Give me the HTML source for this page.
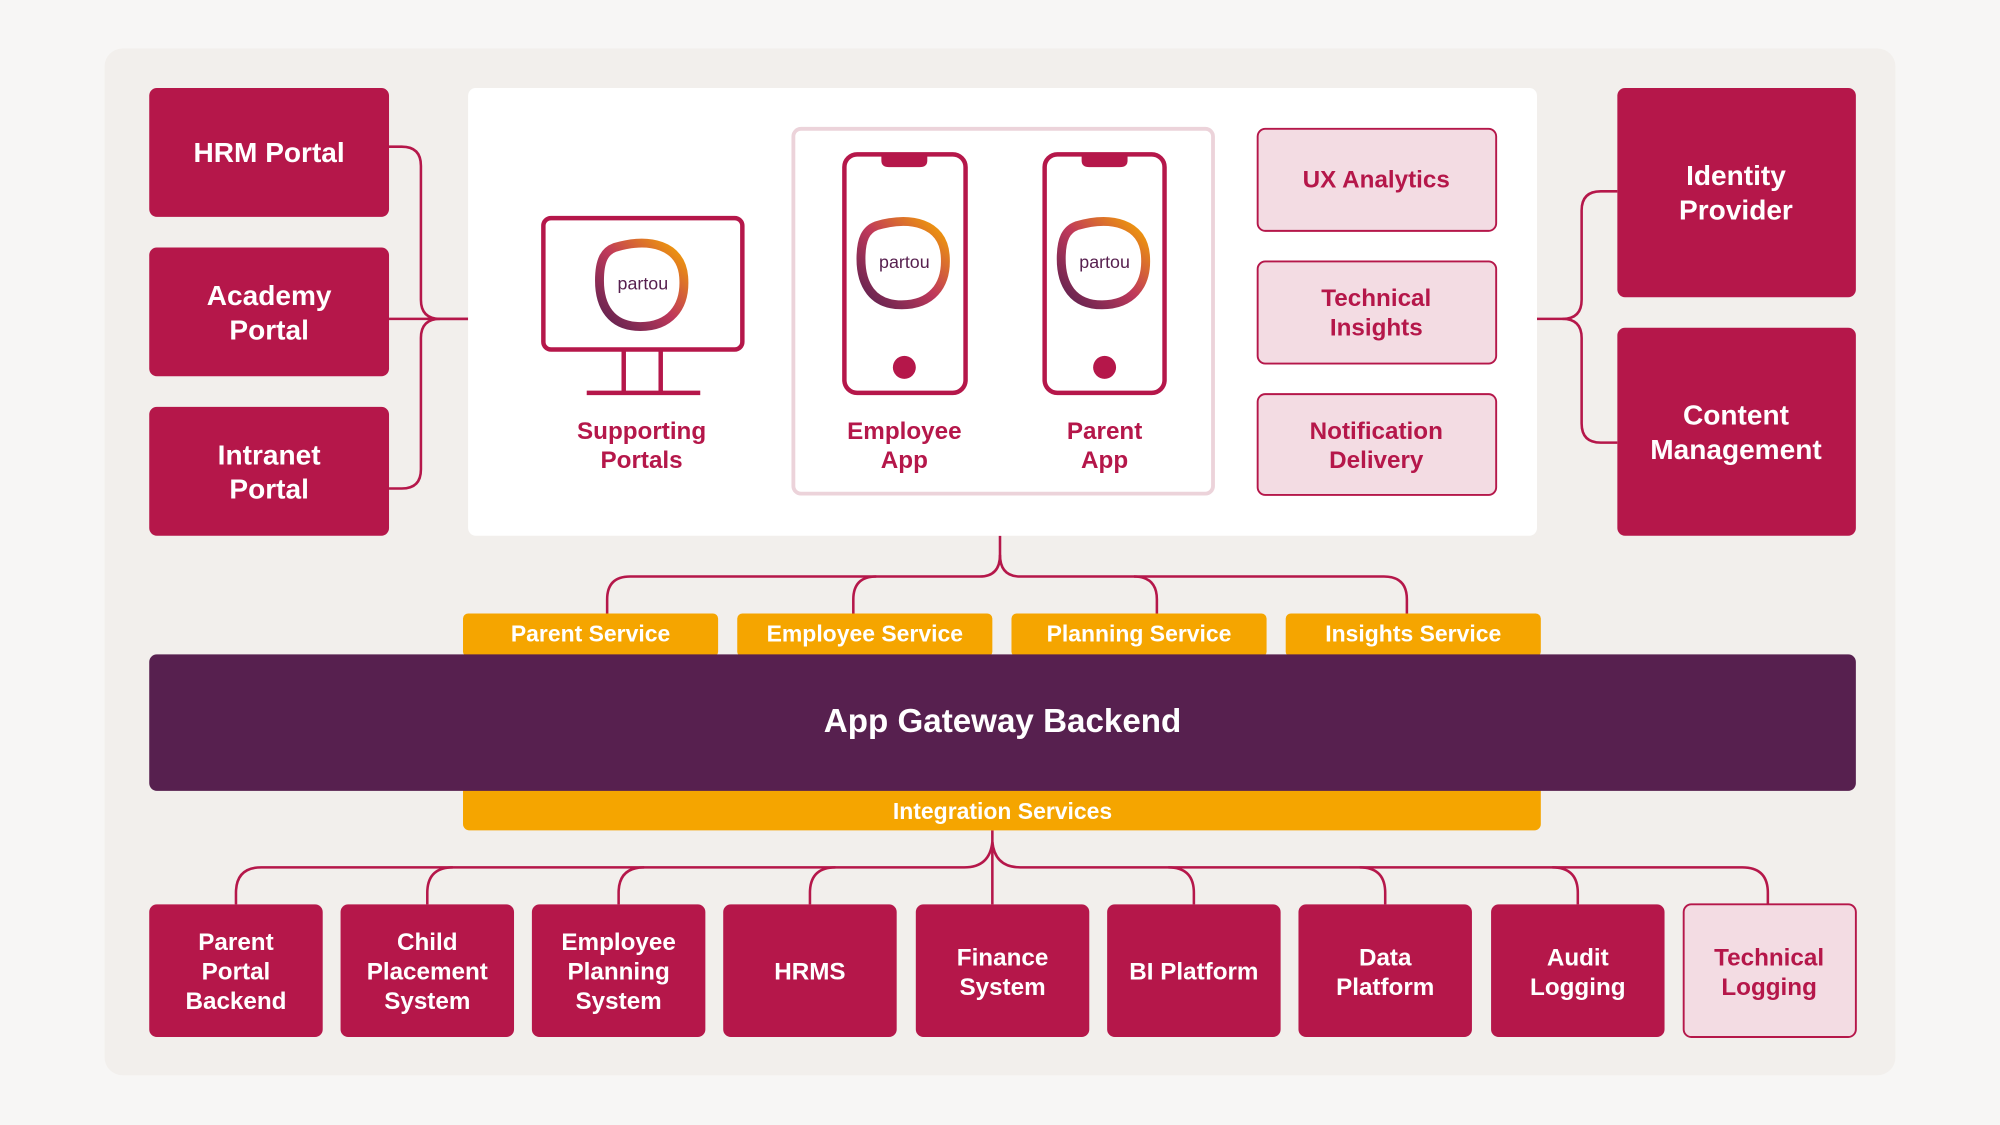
<!DOCTYPE html>
<html><head><meta charset="utf-8"><style>
html,body{margin:0;padding:0;background:#f7f6f5;}
svg{display:block;}
text{font-family:"Liberation Sans",sans-serif;font-weight:bold;text-anchor:middle;}
</style></head><body>
<svg width="2000" height="1125" viewBox="0 0 1568 882" xmlns="http://www.w3.org/2000/svg">
<defs>
<linearGradient id="g" x1="0" y1="1" x2="1" y2="0">
<stop offset="0" stop-color="#57204f"/><stop offset="0.5" stop-color="#c0395a"/><stop offset="1" stop-color="#f5a500"/></linearGradient>
<g id="logo">
<path d="M-22,-28 C5,-36 30,-30 32,-5 C34,20 20,34 -2,34 C-25,34 -34,18 -34,-2 C-34,-18 -30,-25 -22,-28 Z" fill="none" stroke="url(#g)" stroke-width="7"/>
<text x="0" y="5" font-size="14" font-weight="normal" fill="#57204f" style="font-weight:normal">partou</text>
</g>
</defs>
<rect width="1568" height="882" fill="#f7f6f5"/>
<rect x="82" y="38" width="1404" height="805" rx="14" fill="#f2efec"/>
<g fill="none" stroke="#b5174a" stroke-width="2">
<!-- left connectors -->
<path d="M305,115 H315 Q330,115 330,130 V235 Q330,250 345,250 H367"/>
<path d="M305,250 H367"/>
<path d="M305,383 H315 Q330,383 330,368 V265 Q330,250 345,250"/>
<!-- right connectors -->
<path d="M1205,250 H1225 Q1240,250 1240,235 V165 Q1240,150 1255,150 H1268"/>
<path d="M1225,250 Q1240,250 1240,265 V332 Q1240,347 1255,347 H1268"/>
<!-- top connectors -->
<path d="M784,420 V435 Q784,452 800,452 H1085 Q1103,452 1103,470 V482"/>
<path d="M784,435 Q784,452 768,452 H494 Q476,452 476,470 V482"/>
<path d="M669,482 V470 Q669,452 687,452"/>
<path d="M907,482 V470 Q907,452 889,452"/>
<!-- bottom connectors -->
<path d="M778,651 V709"/>
<path d="M778,660 Q776,680 756,680 H205 Q185,680 185,700 V709"/>
<path d="M778,660 Q780,680 800,680 H1366 Q1386,680 1386,700 V709"/>
<path d="M335,709 V700 Q335,680 355,680"/>
<path d="M485,709 V700 Q485,680 505,680"/>
<path d="M635,709 V700 Q635,680 655,680"/>
<path d="M936,709 V700 Q936,680 916,680"/>
<path d="M1086,709 V700 Q1086,680 1066,680"/>
<path d="M1237,709 V700 Q1237,680 1217,680"/>
</g>
<!-- left boxes -->
<g fill="#b5174a">
<rect x="117" y="69" width="188" height="101" rx="6"/>
<rect x="117" y="194" width="188" height="101" rx="6"/>
<rect x="117" y="319" width="188" height="101" rx="6"/>
<rect x="1268" y="69" width="187" height="164" rx="6"/>
<rect x="1268" y="257" width="187" height="163" rx="6"/>
</g>
<g fill="#fff" font-size="22">
<text x="211" y="127">HRM Portal</text>
<text x="211" y="239">Academy</text><text x="211" y="266">Portal</text>
<text x="211" y="364">Intranet</text><text x="211" y="391">Portal</text>
<text x="1361" y="145">Identity</text><text x="1361" y="172">Provider</text>
<text x="1361" y="333">Content</text><text x="1361" y="360">Management</text>
</g>
<!-- white panel -->
<rect x="367" y="69" width="838" height="351" rx="6" fill="#fff"/>
<rect x="622" y="101" width="329" height="286" rx="6" fill="#fff" stroke="#ecd3da" stroke-width="3"/>
<!-- monitor -->
<g fill="none" stroke="#b5174a" stroke-width="3.5">
<rect x="426" y="171" width="156" height="103" rx="6"/>
<path d="M489,274 V307 M518,274 V307 M460,308 H549"/>
<rect x="662" y="121" width="95" height="187" rx="10"/>
<rect x="819" y="121" width="94" height="187" rx="10"/>
</g>
<g fill="#b5174a">
<path d="M691,121 H727 V126 Q727,131 721,131 H697 Q691,131 691,126Z"/>
<path d="M848,121 H884 V126 Q884,131 878,131 H854 Q848,131 848,126Z"/>
<circle cx="709" cy="288" r="9"/><circle cx="866" cy="288" r="9"/>
</g>
<use href="#logo" x="504" y="222"/>
<use href="#logo" x="709" y="205"/>
<use href="#logo" x="866" y="205"/>
<g fill="#b5174a" font-size="19">
<text x="503" y="344">Supporting</text><text x="503" y="367">Portals</text>
<text x="709" y="344">Employee</text><text x="709" y="367">App</text>
<text x="866" y="344">Parent</text><text x="866" y="367">App</text>
</g>
<!-- light boxes -->
<g fill="#f3dce3" stroke="#b5174a" stroke-width="1.5">
<rect x="986" y="101" width="187" height="80" rx="6"/>
<rect x="986" y="205" width="187" height="80" rx="6"/>
<rect x="986" y="309" width="187" height="79" rx="6"/>
<rect x="1320" y="709" width="135" height="104" rx="6"/>
</g>
<g fill="#b5174a" font-size="19">
<text x="1079" y="147">UX Analytics</text>
<text x="1079" y="240">Technical</text><text x="1079" y="263">Insights</text>
<text x="1079" y="344">Notification</text><text x="1079" y="367">Delivery</text>
<text x="1387" y="757">Technical</text><text x="1387" y="780">Logging</text>
</g>
<!-- services -->
<g fill="#f5a500">
<rect x="363" y="481" width="200" height="34" rx="4"/>
<rect x="578" y="481" width="200" height="34" rx="4"/>
<rect x="793" y="481" width="200" height="34" rx="4"/>
<rect x="1008" y="481" width="200" height="34" rx="4"/>
<rect x="363" y="615" width="845" height="36" rx="5"/>
</g>
<rect x="117" y="513" width="1338" height="107" rx="6" fill="#57204f"/>
<g fill="#fff" font-size="18">
<text x="463" y="503">Parent Service</text>
<text x="678" y="503">Employee Service</text>
<text x="893" y="503">Planning Service</text>
<text x="1108" y="503">Insights Service</text>
<text x="786" y="642">Integration Services</text>
</g>
<text x="786" y="574" fill="#fff" font-size="26">App Gateway Backend</text>
<!-- bottom boxes -->
<g fill="#b5174a">
<rect x="117" y="709" width="136" height="104" rx="6"/>
<rect x="267" y="709" width="136" height="104" rx="6"/>
<rect x="417" y="709" width="136" height="104" rx="6"/>
<rect x="567" y="709" width="136" height="104" rx="6"/>
<rect x="718" y="709" width="136" height="104" rx="6"/>
<rect x="868" y="709" width="136" height="104" rx="6"/>
<rect x="1018" y="709" width="136" height="104" rx="6"/>
<rect x="1169" y="709" width="136" height="104" rx="6"/>
</g>
<g fill="#fff" font-size="19">
<text x="185" y="745">Parent</text><text x="185" y="768">Portal</text><text x="185" y="791">Backend</text>
<text x="335" y="745">Child</text><text x="335" y="768">Placement</text><text x="335" y="791">System</text>
<text x="485" y="745">Employee</text><text x="485" y="768">Planning</text><text x="485" y="791">System</text>
<text x="635" y="768">HRMS</text>
<text x="786" y="757">Finance</text><text x="786" y="780">System</text>
<text x="936" y="768">BI Platform</text>
<text x="1086" y="757">Data</text><text x="1086" y="780">Platform</text>
<text x="1237" y="757">Audit</text><text x="1237" y="780">Logging</text>
</g>
</svg>
</body></html>
